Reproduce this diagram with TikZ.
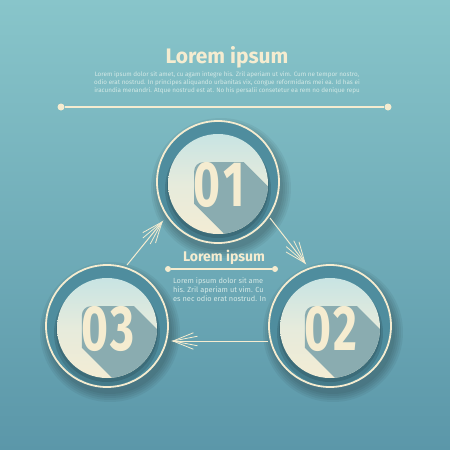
\documentclass[tikz,border=0pt]{standalone}
\usepackage{fontspec}
\setmainfont{Fira Sans}
\usepackage{graphicx}
\usetikzlibrary{calc}
\definecolor{cream}{HTML}{F5ECD0}
\definecolor{bgtop}{HTML}{88C5CA}
\definecolor{bgbot}{HTML}{5B97A9}
\definecolor{ringfill}{HTML}{4F8D9E}
\definecolor{disctop}{HTML}{C8E4E3}
\definecolor{discmid}{HTML}{E6EBDC}
\definecolor{discbot}{HTML}{F3ECD4}
\definecolor{shadowc}{HTML}{8AACB0}
\definecolor{paratext}{HTML}{D3E9E6}
\newcommand{\digits}[1]{\scalebox{0.72}[1]{#1}}
\begin{document}
\begin{tikzpicture}[x=1pt,y=-1pt,
  ring/.style={circle, minimum size=122pt, inner sep=0pt, draw=cream, line width=1.8pt, fill=ringfill},
  disc/.style={circle, minimum size=100pt, inner sep=0pt, top color=disctop, bottom color=discbot, middle color=discmid},
  num/.style={inner sep=0pt, text=cream, font=\fontsize{64}{64}\selectfont\bfseries},
  flow/.style={draw=cream, line width=1pt},
  barb/.style={draw=cream, line width=0.8pt},
  dot/.style={circle, fill=cream, inner sep=0pt, minimum size=7pt},
  sdot/.style={circle, fill=cream, inner sep=0pt, minimum size=6pt},
  para/.style={inner sep=0pt, text=paratext, font=\fontsize{6.3}{7}\selectfont},
  cpara/.style={inner sep=0pt, anchor=west, text=paratext, font=\fontsize{7.4}{9}\selectfont},
  softshadow/.style={fill=black, fill opacity=0.05},
]
\useasboundingbox (0,0) rectangle (450,450);
\fill[top color=bgtop, bottom color=bgbot] (0,0) rectangle (450,450);

% header
\node[font=\bfseries\fontsize{21}{21}\selectfont, text=cream, inner sep=0pt] (title) at (227,57) {Lorem ipsum};
\node[para] (p1) at (227,75) {Lorem ipsum dolor sit amet, cu agam integre his. Zril aperiam ut vim. Cum ne tempor nostro,};
\node[para] (p2) at (227,83) {odio erat nostrud. In principes aliquando urbanitas vix, congue reformidans mei ea. Id has ei};
\node[para] (p3) at (227,91) {iracundia menandri. Atque nostrud est at. No his persalii consetetur ea rem no denique repu};
\node[dot] (tl) at (61,107) {};
\node[dot] (tr) at (388,107) {};
\draw[cream, line width=1.5pt] (tl) -- (tr);

% circles
\foreach \n/\x/\y/\t in {1/218/182/0\kern4pt1, 2/330/326/0\kern4pt2, 3/107/326/0\kern4pt3}{
  \foreach \r in {62,64,66,68,70}{
    \fill[softshadow] (\x+3,\y+6) circle (\r);
  }
  \node[ring] (c\n) at (\x,\y) {};
  \begin{scope}
    \clip (c\n.center) circle (60);
    \fill[black, opacity=0.12] (\x,\y+7) circle (53);
    \fill[black, opacity=0.12] (\x,\y+5) circle (51);
  \end{scope}
  \node[disc] (d\n) at (\x,\y+2) {};
  \path (\x+1,\y+3) node[num] (n\n) {\phantom{\digits{\t}}};
  \begin{scope}
    \clip (d\n.center) circle (50);
    \fill[shadowc] ($(n\n.south west)+(1,-4)$) [rounded corners=9pt] -- ($(n\n.north west)+(1,0)$) [sharp corners] -- ($(n\n.north east)+(-1,0)$)
      -- ++(90,90) -- ($(n\n.south west)+(91,86)$) -- cycle;
  \end{scope}
  \node[num] (t\n) at (n\n) {\digits{\t}};
}

% connectors
\coordinate (a1s) at ($(c3.center)+(20,-61)$);
\coordinate (a1e) at ($(c1.center)+(-56,40)$);
\coordinate (a2s) at ($(c1.center)+(52,36)$);
\coordinate (a2e) at ($(c2.center)+(-25,-63)$);
\coordinate (a3s) at ($(c2.center)+(-62,15)$);
\coordinate (a3e) at ($(c3.center)+(66,15)$);
\foreach \s/\e in {a1s/a1e, a2s/a2e, a3s/a3e}{
  \draw[flow] (\s) -- (\e);
  \draw[barb] ($(\e)!25pt!11:(\s)$) -- (\e) -- ($(\e)!25pt!-11:(\s)$);
  \draw[barb] ($(\e)!22pt!22:(\s)$) -- (\e) -- ($(\e)!22pt!-22:(\s)$);
}

% centre text
\node[font=\bfseries\fontsize{14}{14}\selectfont, text=cream, inner sep=0pt] (ctitle) at (224,257) {Lorem ipsum};
\node[sdot] (cl) at (168,269) {};
\node[sdot] (cr) at (275,269) {};
\draw[cream, line width=1.5pt] (cl) -- (cr);
\node[cpara] (q1) at (173,281) {Lorem ipsum dolor sit ame};
\node[cpara] (q2) at (173,290) {his. Zril aperiam ut vim. Cu};
\node[cpara] (q3) at (173,299) {es nec odio erat nostrud. In};
\end{tikzpicture}
\end{document}
